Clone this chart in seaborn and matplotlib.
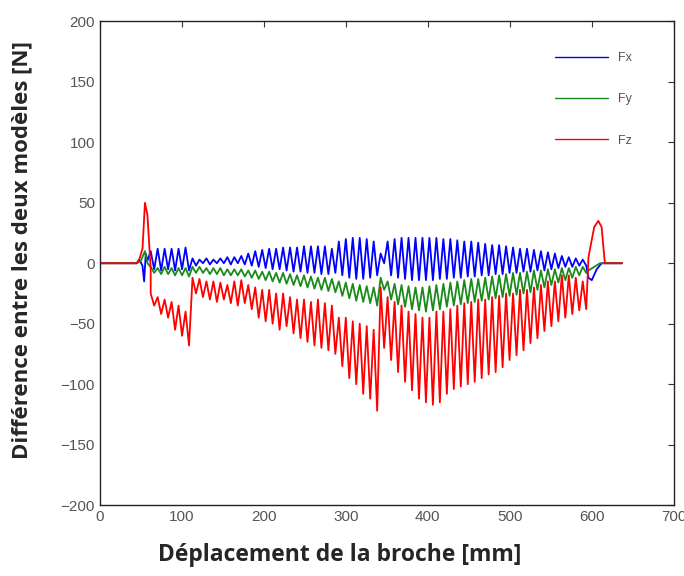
import numpy as np
import pandas as pd
import matplotlib
matplotlib.use("Agg")
import matplotlib.pyplot as plt
import seaborn as sns

sns.set_style("white")
plt.rcParams['font.family'] = ['Liberation Sans', 'DejaVu Sans']

# positions (mm) of each oscillation crest, shared by the three components
cycle_x = [62, 70.5, 79, 87.5, 96, 104.5, 113, 121.5, 130, 138.5, 147, 155.5,
           164, 172.5, 181, 189.5, 198, 206.5, 215, 223.5, 232, 240.5, 249,
           257.5, 266, 274.5, 283, 291.5, 300, 308.5, 317, 325.5, 334, 342.5,
           351, 359.5, 368, 376.5, 385, 393.5, 402, 410.5, 419, 427.5, 436,
           444.5, 453, 461.5, 470, 478.5, 487, 495.5, 504, 512.5, 521, 529.5,
           538, 546.5, 555, 563.5, 572, 580.5, 589]
trough_offset = 4.25

# Fx
fx_top = [10, 12, 12, 12, 12, 13, 4, 3, 4, 3, 4, 5, 5, 6, 8, 10, 11, 12, 12, 13,
          13, 13, 14, 14, 14, 14, 12, 18, 20, 21, 21, 20, 18, 8, 18, 20, 21, 21,
          21, 21, 21, 21, 20, 20, 19, 18, 18, 17, 16, 15, 15, 14, 13, 12, 12, 11,
          10, 9, 8, 6, 5, 4, 3]
fx_bot = [-5, -6, -5, -6, -5, -6, -2, 0, -1, 0, 0, -1, 0, -1, -2, -3, -4, -5, -5,
          -6, -7, -7, -8, -8, -9, -9, -8, -10, -12, -13, -13, -12, -10, 0, -10,
          -12, -13, -14, -14, -14, -14, -13, -13, -12, -12, -11, -11, -10, -10,
          -9, -9, -8, -8, -7, -7, -6, -6, -5, -4, -3, -3, -2, -2]
fx_start_x = [0, 45, 48, 52, 54, 56, 58]
fx_start_y = [0, 0, 3, -2, -15, 8, 2]
fx_end_x = [596, 600, 606, 612, 637]
fx_end_y = [-12, -14, -5, 0, 0]

# Fy
fy_top = [-3, -4, -3, -4, -4, -4, -3, -3, -4, -4, -4, -5, -5, -5, -6, -6, -7, -7,
          -8, -8, -9, -10, -10, -11, -12, -12, -13, -15, -16, -17, -18, -19, -20,
          -12, -15, -17, -18, -19, -20, -20, -19, -18, -17, -16, -15, -14, -13,
          -13, -12, -11, -10, -9, -8, -8, -7, -6, -6, -5, -5, -4, -4, -3, -3]
fy_bot = [-8, -9, -9, -10, -10, -11, -8, -8, -9, -9, -10, -10, -10, -11, -12,
          -13, -14, -15, -16, -17, -18, -19, -20, -21, -22, -23, -24, -27, -29,
          -31, -32, -33, -35, -22, -30, -34, -36, -38, -39, -40, -39, -38, -36,
          -35, -34, -33, -32, -31, -30, -29, -28, -27, -26, -25, -24, -22, -20,
          -18, -16, -14, -12, -10, -8]
fy_start_x = [0, 45, 50, 55, 58]
fy_start_y = [0, 0, 2, 10, 0]
fy_end_x = [596, 603, 610, 637]
fy_end_y = [-6, -3, 0, 0]

# Fz
fz_top = [-25, -28, -30, -32, -35, -40, -12, -13, -15, -15, -16, -18, -15, -14,
          -18, -20, -22, -22, -25, -25, -28, -30, -30, -32, -30, -33, -35, -45,
          -45, -48, -50, -52, -55, -20, -28, -32, -35, -40, -42, -45, -45, -40,
          -40, -38, -35, -33, -32, -30, -30, -28, -27, -25, -25, -22, -22, -20,
          -18, -15, -15, -10, -10, -12, -15]
fz_bot = [-35, -42, -45, -55, -60, -68, -25, -28, -30, -32, -30, -33, -35, -33,
          -38, -45, -48, -50, -55, -52, -58, -62, -65, -68, -70, -72, -75, -85,
          -95, -100, -108, -112, -122, -70, -80, -90, -98, -105, -112, -115, -117,
          -115, -108, -104, -102, -100, -98, -95, -92, -90, -86, -80, -76, -72,
          -66, -62, -56, -52, -48, -45, -42, -39, -38]
fz_start_x = [0, 45, 48, 52, 55, 58, 62]
fz_start_y = [0, 0, 3, 12, 50, 40, -5]
fz_end_x = [596, 603, 608, 612, 616, 637]
fz_end_y = [5, 30, 35, 30, 0, 0]

labels = ['Fx', 'Fy', 'Fz']
colors = ['#0000ff', '#1a8a1a', '#ff0000']


def build(label, top, bot, sx, sy, ex, ey):
    xs = list(sx)
    ys = list(sy)
    for xc, t, b in zip(cycle_x, top, bot):
        xs += [xc, xc + trough_offset]
        ys += [t, b]
    xs += ex
    ys += ey
    return pd.DataFrame({'x': xs, 'y': ys, 'comp': label})


df = pd.concat([
    build('Fx', fx_top, fx_bot, fx_start_x, fx_start_y, fx_end_x, fx_end_y),
    build('Fy', fy_top, fy_bot, fy_start_x, fy_start_y, fy_end_x, fy_end_y),
    build('Fz', fz_top, fz_bot, fz_start_x, fz_start_y, fz_end_x, fz_end_y),
], ignore_index=True)

fig = plt.figure(figsize=(6.84, 5.76), dpi=100)
ax = fig.add_axes([0.146, 0.123, 0.839, 0.840])

sns.lineplot(data=df, x='x', y='y', hue='comp', hue_order=labels,
             palette=colors, sort=False, estimator=None, linewidth=1.3,
             ax=ax, legend=False)

ax.set_xlim(0, 700)
ax.set_ylim(-200, 200)
ax.set_xticks(range(0, 701, 100))
ax.set_yticks(range(-200, 201, 50))
ax.tick_params(direction='in', length=4, top=True, right=True,
               labelsize=11, labelcolor='#555555', color='#333333')
for s in ax.spines.values():
    s.set_color('#222222')
    s.set_linewidth(1.0)

ax.set_xlabel('Déplacement de la broche [mm]', family=['Open Sans', 'DejaVu Sans'],
              fontsize=16.5, fontweight='bold')
ax.set_ylabel('Différence entre les deux modèles [N]', family=['Open Sans', 'DejaVu Sans'],
              fontsize=16, fontweight='bold')
ax.xaxis.set_label_coords(0.418, -0.078)
ax.yaxis.set_label_coords(-0.118, 0.527)

handles = [plt.Line2D([], [], color=c, lw=1.0) for c in colors]
leg = ax.legend(handles, labels, loc='upper right', bbox_to_anchor=(0.946, 0.96),
                frameon=False, fontsize=9, labelspacing=2.35, handlelength=4.2,
                handletextpad=0.8)
for t in leg.get_texts():
    t.set_color('#555555')

fig.savefig('out.png', dpi=100)
